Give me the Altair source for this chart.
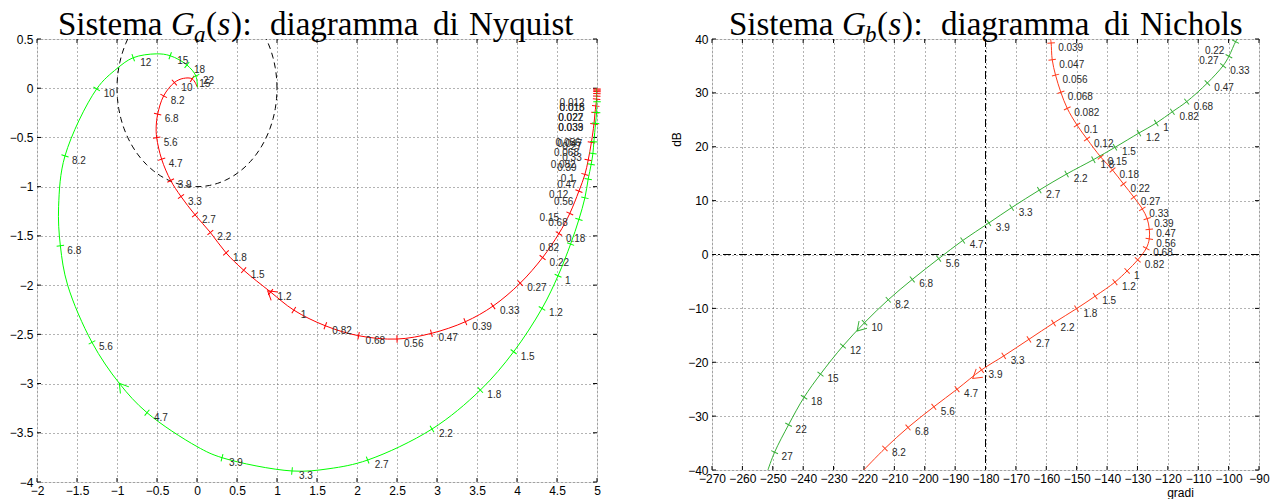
import math
import pandas as pd
import altair as alt

# ================= Nyquist diagram (left) =================
nyq_red_w = [0.012, 0.015, 0.018, 0.022, 0.027, 0.033, 0.039, 0.047, 0.056, 0.068,
             0.082, 0.1, 0.12, 0.15, 0.18, 0.22, 0.27, 0.33, 0.39, 0.47,
             0.56, 0.68, 0.82, 1, 1.2, 1.5, 1.8, 2.2, 2.7, 3.3,
             3.9, 4.7, 5.6, 6.8, 8.2, 10, 15]
nyq_red_re = [5.0, 5.0, 5.0, 4.999, 4.997, 4.995, 4.985, 4.975, 4.962, 4.93,
              4.89, 4.849, 4.774, 4.66, 4.524, 4.32, 4.04, 3.70, 3.354, 2.93,
              2.50, 2.02, 1.604, 1.21, 0.92, 0.583, 0.3625, 0.167, -0.025, -0.20,
              -0.329, -0.442, -0.504, -0.492, -0.417, -0.283, -0.06]
nyq_red_im = [-0.008, -0.02, -0.035, -0.055, -0.08, -0.11, -0.18, -0.249, -0.364, -0.55,
              -0.73, -0.876, -1.045, -1.272, -1.476, -1.72, -1.98, -2.213, -2.372, -2.49,
              -2.548, -2.514, -2.413, -2.254, -2.07, -1.848, -1.672, -1.465, -1.286, -1.10,
              -0.937, -0.721, -0.501, -0.264, -0.078, 0.058, 0.095]
nyq_red_shape_t = [0.01, 6.2, 12.0, 30.0]
nyq_red_shape_re = [5.0, -0.51, -0.17, 0.005]
nyq_red_shape_im = [0.0, -0.385, 0.10, 0.01]
nyq_red_label_w = [0.012, 0.015, 0.018, 0.022, 0.027, 0.033, 0.039, 0.047, 0.056, 0.068, 0.082, 0.1, 0.12, 0.15]
nyq_red_label_re = [4.445, 4.445, 4.445, 4.428, 4.428, 4.428, 4.428, 4.415, 4.395, 4.374, 4.333, 4.458, 4.311, 4.195]
nyq_red_label_im = [-0.104, -0.147, -0.147, -0.249, -0.249, -0.358, -0.358, -0.52, -0.51, -0.612, -0.73, -0.872, -1.035, -1.265]
nyq_red_nolabel_w = []

nyq_green_w = [0.15, 0.18, 0.22, 0.27, 0.33, 0.39, 0.47, 0.56, 0.68, 0.82,
               1, 1.2, 1.5, 1.8, 2.2, 2.7, 3.3, 3.9, 4.7, 5.6,
               6.8, 8.2, 10, 12, 15, 18, 22]
nyq_green_re = [5.0, 4.995, 4.982, 4.961, 4.949, 4.927, 4.89, 4.849, 4.774, 4.67,
                4.513, 4.3125, 3.958, 3.542, 2.9375, 2.133, 1.1875, 0.3125, -0.625, -1.3125,
                -1.708, -1.65, -1.254, -0.797, -0.335, -0.126, -0.014]
nyq_green_im = [-0.137, -0.246, -0.358, -0.544, -0.663, -0.774, -0.923, -1.113, -1.333, -1.583,
                -1.905, -2.237, -2.677, -3.066, -3.462, -3.777, -3.888, -3.753, -3.296, -2.582,
                -1.6, -0.687, -0.007, 0.31, 0.33, 0.236, 0.124]
nyq_green_shape_t = [0.01, 3.0, 4.1, 5.1, 6.2, 7.4, 11.0, 13.5, 30.0]
nyq_green_shape_re = [5.0, 1.65, 0.0, -0.971, -1.617, -1.73, -1.0, -0.51, 0.005]
nyq_green_shape_im = [0.0, -3.865, -3.64, -2.998, -2.0, -1.2, 0.2, 0.349, 0.01]
nyq_green_label_w = [0.27, 0.33, 0.39, 0.47, 0.56, 0.68, 0.82]
nyq_green_label_re = [4.478, 4.478, 4.415, 4.415, 4.374, 4.303, 4.195]
nyq_green_label_im = [-0.551, -0.663, -0.764, -0.933, -1.103, -1.323, -1.577]
nyq_green_nolabel_w = [0.15, 0.18, 0.22]

nyq_arrow_curve = ["red", "green"]
nyq_arrow_re = [0.883, -0.971]
nyq_arrow_im = [-2.058, -2.998]
nyq_arrow_from_w = [1, 4.7]
nyq_arrow_to_w = [1.2, 5.6]

unit_circle_deg = list(range(0, 361, 3))

nyq_xticks = [-2, -1.5, -1, -0.5, 0, 0.5, 1, 1.5, 2, 2.5, 3, 3.5, 4, 4.5, 5]
nyq_yticks = [0.5, 0, -0.5, -1, -1.5, -2, -2.5, -3, -3.5, -4]

# ================= Nichols diagram (right) =================
nic_red_w = [0.039, 0.047, 0.056, 0.068, 0.082, 0.1, 0.12, 0.15, 0.18, 0.22,
             0.27, 0.33, 0.39, 0.47, 0.56, 0.68, 0.82, 1, 1.2, 1.5,
             1.8, 2.2, 2.7, 3.3, 3.9, 4.7, 5.6, 6.8, 8.2]
nic_red_deg = [-158.4, -158.05, -156.95, -155.2, -153.1, -149.9, -146.6, -142.1, -138.2, -134.6,
               -131.2, -128.4, -126.8, -126.1, -126.1, -127.1, -129.9, -133.4, -137.4, -143.9,
               -150.05, -157.6, -165.7, -174.0, -181.3, -189.35, -197.0, -205.5, -213.1]
nic_red_db = [39.26, 36.16, 33.3, 30.1, 27.13, 24.03, 21.44, 18.1, 15.68, 13.1,
              10.65, 8.46, 6.66, 4.68, 2.9, 1.15, -1.0, -3.05, -5.13, -7.73,
              -10.05, -12.72, -15.74, -18.83, -21.42, -25.0, -28.27, -32.1, -36.0]
nic_red_shape_t = [0.037, 9.5]
nic_red_shape_deg = [-158.6, -220.05]
nic_red_shape_db = [40.0, -40.0]
nic_red_label_w = []
nic_red_label_deg = []
nic_red_label_db = []
nic_red_nolabel_w = []

nic_green_w = [0.22, 0.27, 0.33, 0.47, 0.68, 0.82, 1, 1.2, 1.5, 1.8,
               2.2, 2.7, 3.3, 3.9, 4.7, 5.6, 6.8, 8.2, 10, 12,
               15, 18, 22, 27]
nic_green_deg = [-97.7, -99.9, -101.8, -107.0, -113.8, -118.5, -123.8, -129.5, -137.4, -144.5,
                 -153.3, -162.3, -171.4, -178.9, -187.5, -195.4, -204.1, -212.0, -219.8, -226.9,
                 -234.3, -239.7, -244.8, -249.4]
nic_green_db = [39.5, 36.8, 35.05, 31.83, 28.37, 26.5, 24.4, 22.55, 19.89, 17.6,
                14.94, 11.95, 8.7, 5.85, 2.6, -0.77, -4.63, -8.4, -12.65, -16.98,
                -22.2, -26.5, -31.6, -36.7]
nic_green_shape_t = [0.2, 30.0]
nic_green_shape_deg = [-97.1, -251.6]
nic_green_shape_db = [40.0, -40.0]
nic_green_label_w = [0.22, 0.27]
nic_green_label_deg = [-110.1, -112.0]
nic_green_label_db = [38.77, 36.9]
nic_green_nolabel_w = []

nic_arrow_curve = ["green", "red"]
nic_arrow_deg = [-222.25, -184.2]
nic_arrow_db = [-14.2, -23.0]
nic_arrow_from_w = [10, 3.9]
nic_arrow_to_w = [12, 4.7]

nic_ref_phase = [-180]
nic_ref_db = [0]
nic_xticks = list(range(-270, -89, 10))
nic_yticks = list(range(-40, 41, 10))

# ================= helpers =================
TICK_SHAPE = "M0,-1L0,1"
ARROW_SHAPE = "M-1,-0.62L0,0L-1,0.62"
LABEL_FONT = "Liberation Sans"
SERIF = "Liberation Serif"


def build_curve(w, xs, ys, st, sxs, sys_, lab_w, lab_x, lab_y, nolab, kx, ky):
    rows = list(zip(w, xs, ys)) + list(zip(st, sxs, sys_))
    rows.sort(key=lambda r: r[0])
    path = pd.DataFrame(rows, columns=["t", "x", "y"])
    ts = [r[0] for r in rows]
    over = {a: (b, c) for a, b, c in zip(lab_w, lab_x, lab_y)}
    ticks = []
    for a, b, c in zip(w, xs, ys):
        i = ts.index(a)
        p0 = rows[max(i - 1, 0)]
        p1 = rows[min(i + 1, len(rows) - 1)]
        tx = (p1[1] - p0[1]) * kx
        ty = -(p1[2] - p0[2]) * ky
        ang = math.degrees(math.atan2(ty, tx)) % 360
        lx, ly = over.get(a, (b, c))
        ticks.append(dict(x=b, y=c, ang=ang, lx=lx, ly=ly,
                          label="" if a in nolab else f"{a:g}"))
    return path, pd.DataFrame(ticks)


def build_arrows(names, ax, ay, fw, tw, curves, kx, ky):
    out = []
    for n, x, y, a, b in zip(names, ax, ay, fw, tw):
        w, xs, ys = curves[n]
        i, j = w.index(a), w.index(b)
        tx = (xs[j] - xs[i]) * kx
        ty = -(ys[j] - ys[i]) * ky
        out.append(dict(x=x, y=y, ang=math.degrees(math.atan2(ty, tx)) % 360, curve=n))
    return pd.DataFrame(out)


def axis_kw(values, title, **extra):
    kw = dict(values=values, title=title, grid=True, gridColor="#666666", gridDash=[1, 3],
              gridWidth=1, ticks=False, domain=False, labelFont=LABEL_FONT, labelFontSize=12,
              labelColor="black", labelPadding=4, format="~g", labelOverlap=False,
              labelFlush=False, labelBound=False, titleFont=LABEL_FONT, titleFontSize=12,
              titleFontWeight="normal", titleColor="black")
    kw.update(extra)
    return alt.Axis(**kw)


def title_layers(x0, sub, last):
    one = pd.DataFrame({"k": [0]})
    parts = [("Sistema", 0, "normal", 33, -4), ("G", 113, "italic", 33, -4),
             (sub, 136, "italic", 23, 3), ("(", 148, "normal", 33, -4),
             ("s", 159.5, "italic", 33, -4), (")", 173, "normal", 33, -4),
             (":", 184.5, "normal", 33, -4), ("diagramma", 212, "normal", 33, -4),
             ("di", 375, "normal", 33, -4), (last, 411, "normal", 33, -4)]
    out = []
    for txt, off, style, size, yy in parts:
        out.append(alt.Chart(one).mark_text(align="left", baseline="alphabetic", font=SERIF,
                                            fontSize=size, fontStyle=style, color="black")
                   .encode(x=alt.value(x0 + off), y=alt.value(yy), text=alt.value(txt)))
    return out


def panel(W, H, xdom, ydom, xticks, yticks, xaxis, yaxis, curves, arrows, ref_layers, colors,
          title_x0, sub, last):
    kx = W / (xdom[1] - xdom[0])
    ky = H / (ydom[1] - ydom[0])

    def X(f):
        return alt.X(f"{f}:Q", scale=alt.Scale(domain=xdom, nice=False, zero=False), axis=xaxis)

    def Y(f):
        return alt.Y(f"{f}:Q", scale=alt.Scale(domain=ydom, nice=False, zero=False), axis=yaxis)

    layers = []
    xt = pd.DataFrame({"v": xticks})
    yt = pd.DataFrame({"v": yticks})
    layers.append(alt.Chart(xt).mark_rule(color="black", strokeWidth=1).encode(
        x=X("v"), y=alt.value(H), y2=alt.value(H - 4)))
    layers.append(alt.Chart(xt).mark_rule(color="black", strokeWidth=1).encode(
        x=X("v"), y=alt.value(0), y2=alt.value(4)))
    layers.append(alt.Chart(yt).mark_rule(color="black", strokeWidth=1).encode(
        y=Y("v"), x=alt.value(0), x2=alt.value(4)))
    layers.append(alt.Chart(yt).mark_rule(color="black", strokeWidth=1).encode(
        y=Y("v"), x=alt.value(W), x2=alt.value(W - 4)))

    for maker in ref_layers:
        layers.append(maker(X, Y))

    built = {}
    for name, spec in curves.items():
        path, ticks = build_curve(*spec, kx, ky)
        built[name] = spec[:3]
        col = colors[name]
        layers.append(alt.Chart(path).mark_line(color=col, strokeWidth=1, interpolate="catmull-rom",
                                                clip=True).encode(x=X("x"), y=Y("y"), order="t:Q"))
        layers.append(alt.Chart(ticks).mark_point(shape=TICK_SHAPE, filled=False, size=56, strokeWidth=1,
                                                  color=col, opacity=1).encode(
            x=X("x"), y=Y("y"), angle=alt.Angle("ang:Q", scale=None)))
        layers.append(alt.Chart(ticks).mark_text(align="left", baseline="middle", dx=7, dy=5,
                                                 font=LABEL_FONT, fontSize=10, color="#2a2a2a").encode(
            x=X("lx"), y=Y("ly"), text="label:N"))

    arr = build_arrows(*arrows, built, kx, ky)
    for name in colors:
        sub_df = arr[arr.curve == name]
        if len(sub_df):
            layers.append(alt.Chart(sub_df).mark_point(shape=ARROW_SHAPE, filled=False, size=300,
                                                       strokeWidth=1, color=colors[name], opacity=1).encode(
                x=X("x"), y=Y("y"), angle=alt.Angle("ang:Q", scale=None)))

    layers += title_layers(title_x0, sub, last)
    return alt.layer(*layers).properties(width=W, height=H)


# ---------- left panel ----------
def unit_circle(X, Y):
    df = pd.DataFrame({"x": [math.cos(math.radians(a)) for a in unit_circle_deg],
                       "y": [math.sin(math.radians(a)) for a in unit_circle_deg],
                       "o": list(range(len(unit_circle_deg)))})
    return alt.Chart(df).mark_line(color="black", strokeWidth=1, strokeDash=[6, 4], clip=True).encode(
        x=X("x"), y=Y("y"), order="o:Q")


left = panel(
    560, 443, [-2, 5], [-4, 0.5], nyq_xticks, nyq_yticks,
    axis_kw(nyq_xticks, None, labelPadding=3),
    axis_kw(nyq_yticks, None),
    {
        "red": (nyq_red_w, nyq_red_re, nyq_red_im, nyq_red_shape_t, nyq_red_shape_re, nyq_red_shape_im,
                nyq_red_label_w, nyq_red_label_re, nyq_red_label_im, nyq_red_nolabel_w),
        "green": (nyq_green_w, nyq_green_re, nyq_green_im, nyq_green_shape_t, nyq_green_shape_re,
                  nyq_green_shape_im, nyq_green_label_w, nyq_green_label_re, nyq_green_label_im,
                  nyq_green_nolabel_w),
    },
    (nyq_arrow_curve, nyq_arrow_re, nyq_arrow_im, nyq_arrow_from_w, nyq_arrow_to_w),
    [unit_circle],
    {"red": "#ff0000", "green": "#00ff00"},
    21, "a", "Nyquist",
)


# ---------- right panel ----------
def ref_phase(X, Y):
    return alt.Chart(pd.DataFrame({"v": nic_ref_phase})).mark_rule(
        color="black", strokeWidth=1, strokeDash=[8, 3, 2, 3]).encode(x=X("v"))


def ref_db(X, Y):
    return alt.Chart(pd.DataFrame({"v": nic_ref_db})).mark_rule(
        color="black", strokeWidth=1, strokeDash=[8, 3, 2, 3]).encode(y=Y("v"))


right = panel(
    547, 431, [-270, -90], [-40, 40], nic_xticks, nic_yticks,
    axis_kw(nic_xticks, "gradi", format="d", labelPadding=3, titleX=468, titleY=22,
            titleBaseline="middle"),
    axis_kw(nic_yticks, "dB", format="d", titleX=-36, titleY=100, titleAngle=270,
            titleBaseline="middle", titleAlign="center"),
    {
        "red": (nic_red_w, nic_red_deg, nic_red_db, nic_red_shape_t, nic_red_shape_deg, nic_red_shape_db,
                nic_red_label_w, nic_red_label_deg, nic_red_label_db, nic_red_nolabel_w),
        "green": (nic_green_w, nic_green_deg, nic_green_db, nic_green_shape_t, nic_green_shape_deg,
                  nic_green_shape_db, nic_green_label_w, nic_green_label_deg, nic_green_label_db,
                  nic_green_nolabel_w),
    },
    (nic_arrow_curve, nic_arrow_deg, nic_arrow_db, nic_arrow_from_w, nic_arrow_to_w),
    [ref_phase, ref_db],
    {"red": "#ff3a1a", "green": "#35b035"},
    17, "b", "Nichols",
)

chart = alt.hconcat(left, right, spacing=115, bounds="flush").properties(
    padding={"left": 8, "top": 8, "right": 0, "bottom": 0}
).configure_view(stroke="black", strokeWidth=1).configure(background="white")

chart.save("out.html", embed_options={"renderer": "svg", "actions": False})
